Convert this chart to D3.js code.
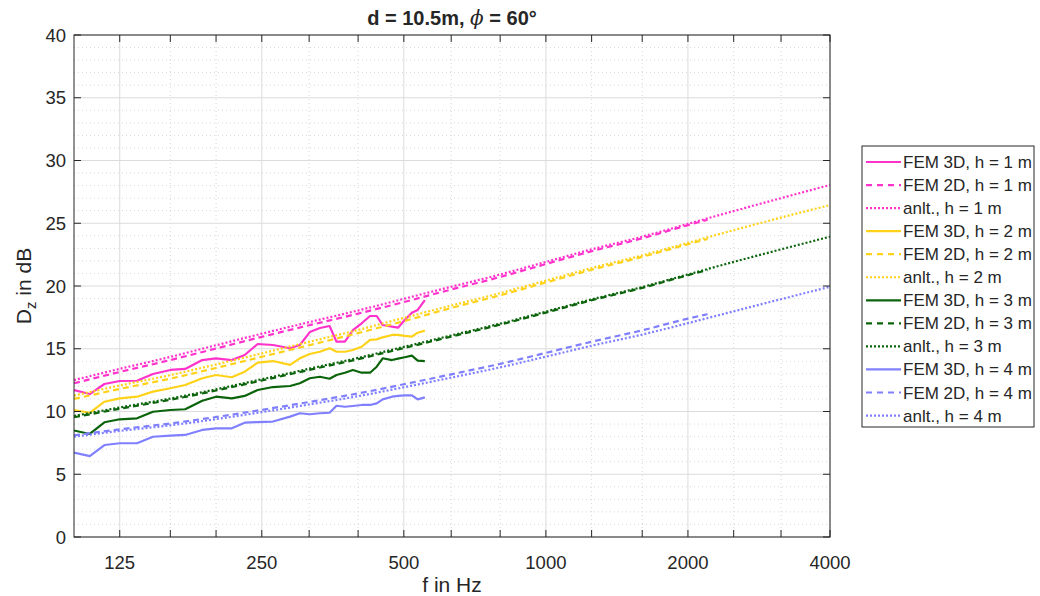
<!DOCTYPE html>
<html><head><meta charset="utf-8">
<script src="https://cdn.jsdelivr.net/npm/d3@7"></script>
<style>
body{margin:0;background:#fff}
text{font-family:"Liberation Sans",Arial,Helvetica,sans-serif;fill:#262626}
</style>
</head><body>
<svg id="chart" width="1040" height="596"></svg>
<script>
// ---------- data ----------
const freq3D = [100,108,116,125,136,147,160,172,187,200,216,230,245,264,287,301,316,332,348,360,375,390,407,424,438,451,472,486,502,520,535,554];
const fem3D_h1 = [11.71,11.39,12.19,12.43,12.45,12.99,13.31,13.39,14.10,14.24,14.10,14.50,15.38,15.30,15.04,15.30,16.33,16.65,16.81,15.56,15.56,16.49,17.03,17.61,17.61,16.89,16.76,16.68,17.29,17.87,18.09,18.88];
const fem3D_h2 = [10.12,9.90,10.78,11.05,11.18,11.58,11.85,12.11,12.65,12.91,12.73,13.17,13.89,14.02,13.71,14.24,14.58,14.76,15.04,14.76,14.76,14.90,15.16,15.70,15.75,15.91,16.10,16.10,16.02,15.96,16.28,16.44];
const fem3D_h3 = [8.49,8.21,9.14,9.38,9.46,9.98,10.12,10.18,10.86,11.18,11.05,11.24,11.71,11.95,12.03,12.25,12.65,12.77,12.61,12.91,13.09,13.31,13.09,13.09,13.57,14.24,14.10,14.21,14.32,14.45,14.05,14.02];
const fem3D_h4 = [6.72,6.45,7.33,7.47,7.47,7.99,8.07,8.13,8.53,8.66,8.66,9.11,9.16,9.20,9.59,9.86,9.78,9.86,9.90,10.46,10.38,10.44,10.52,10.52,10.65,10.97,11.18,11.24,11.29,11.29,10.97,11.13];

const freq2D = [100,125,160,200,250,315,400,500,630,800,1000,1250,1600,2000,2200];
const fem2D_h1 = [12.25,13.15,14.10,15.02,15.95,16.87,17.80,18.72,19.72,20.72,21.75,22.77,23.80,24.85,25.28];
const fem2D_h2 = [11.00,11.80,12.62,13.47,14.36,15.28,16.25,17.20,18.25,19.26,20.28,21.29,22.32,23.33,23.75];
const fem2D_h3 = [9.54,10.22,10.93,11.67,12.47,13.31,14.17,15.05,15.97,16.92,17.88,18.86,19.85,20.86,21.27];
const fem2D_h4 = [8.10,8.58,9.05,9.56,10.13,10.76,11.44,12.17,12.96,13.80,14.67,15.56,16.47,17.40,17.75];

const freqAn = [100,125,160,200,250,315,400,500,630,800,1000,1250,1600,2000,2500,3150,4000];
const anlt_h1 = [12.50,13.40,14.35,15.28,16.20,17.12,18.05,18.98,19.94,20.92,21.92,22.92,23.93,24.95,25.97,27.00,28.05];
const anlt_h2 = [11.27,12.07,12.90,13.75,14.63,15.55,16.50,17.46,18.44,19.43,20.43,21.43,22.44,23.44,24.45,25.45,26.45];
const anlt_h3 = [9.64,10.32,11.03,11.77,12.57,13.41,14.27,15.15,16.06,17.00,17.96,18.93,19.92,20.92,21.92,22.92,23.93];
const anlt_h4 = [7.99,8.45,8.90,9.39,9.95,10.56,11.22,11.93,12.70,13.52,14.37,15.24,16.13,17.04,17.98,18.95,19.94];

const xTickValues = [125,250,500,1000,2000,4000];
const xMinorTicks = [160,200,315,400,630,800,1250,1600,2500,3150];
const yTickValues = [0,5,10,15,20,25,30,35,40];
const yMinorTicks = [1,2,3,4,6,7,8,9,11,12,13,14,16,17,18,19,21,22,23,24,26,27,28,29,31,32,33,34,36,37,38,39];

const colors = {h1:"#FF33CC", h2:"#FFD21A", h3:"#0B640B", h4:"#8080FF"};

// ---------- layout ----------
const svg = d3.select("#chart");
const L = 74, R = 830, T = 35, B = 537;
const x = d3.scaleLog().domain([100,4000]).range([L,R]);
const y = d3.scaleLinear().domain([0,40]).range([B,T]);
const axisColor = "#262626";

svg.append("rect").attr("width",1040).attr("height",596).attr("fill","#fff");

// grid
const g = svg.append("g");
g.selectAll(".xmin").data(xMinorTicks).join("line")
  .attr("x1",d=>x(d)).attr("x2",d=>x(d)).attr("y1",T).attr("y2",B)
  .attr("stroke","#d8d8d8").attr("stroke-width",1).attr("stroke-dasharray","1,3");
g.selectAll(".ymin").data(yMinorTicks).join("line")
  .attr("x1",L).attr("x2",R).attr("y1",d=>y(d)).attr("y2",d=>y(d))
  .attr("stroke","#d8d8d8").attr("stroke-width",1).attr("stroke-dasharray","1,3");
g.selectAll(".xmaj").data(xTickValues).join("line")
  .attr("x1",d=>x(d)).attr("x2",d=>x(d)).attr("y1",T).attr("y2",B)
  .attr("stroke","#dcdcdc").attr("stroke-width",1);
g.selectAll(".ymaj").data(yTickValues).join("line")
  .attr("x1",L).attr("x2",R).attr("y1",d=>y(d)).attr("y2",d=>y(d))
  .attr("stroke","#dcdcdc").attr("stroke-width",1);

// clip
svg.append("clipPath").attr("id","clip").append("rect")
  .attr("x",L).attr("y",T).attr("width",R-L).attr("height",B-T);

const DASH = "6,4", DOT = "2,2";
const series = [
  {name:"FEM 3D, h = 1 m", f:freq3D, v:fem3D_h1, c:colors.h1, dash:null},
  {name:"FEM 2D, h = 1 m", f:freq2D, v:fem2D_h1, c:colors.h1, dash:DASH},
  {name:"anlt., h = 1 m",  f:freqAn, v:anlt_h1,  c:colors.h1, dash:DOT},
  {name:"FEM 3D, h = 2 m", f:freq3D, v:fem3D_h2, c:colors.h2, dash:null},
  {name:"FEM 2D, h = 2 m", f:freq2D, v:fem2D_h2, c:colors.h2, dash:DASH},
  {name:"anlt., h = 2 m",  f:freqAn, v:anlt_h2,  c:colors.h2, dash:DOT},
  {name:"FEM 3D, h = 3 m", f:freq3D, v:fem3D_h3, c:colors.h3, dash:null},
  {name:"FEM 2D, h = 3 m", f:freq2D, v:fem2D_h3, c:colors.h3, dash:DASH},
  {name:"anlt., h = 3 m",  f:freqAn, v:anlt_h3,  c:colors.h3, dash:DOT},
  {name:"FEM 3D, h = 4 m", f:freq3D, v:fem3D_h4, c:colors.h4, dash:null},
  {name:"FEM 2D, h = 4 m", f:freq2D, v:fem2D_h4, c:colors.h4, dash:DASH},
  {name:"anlt., h = 4 m",  f:freqAn, v:anlt_h4,  c:colors.h4, dash:DOT}
];

const lineGen = d3.line().x(d=>x(d[0])).y(d=>y(d[1]));
const lineSmooth = d3.line().x(d=>x(d[0])).y(d=>y(d[1])).curve(d3.curveMonotoneX);
const plot = svg.append("g").attr("clip-path","url(#clip)");
series.forEach(s=>{
  const pts = s.f.map((f,i)=>[f,s.v[i]]);
  plot.append("path").attr("d", s.dash ? lineSmooth(pts) : lineGen(pts))
    .attr("fill","none").attr("stroke",s.c).attr("stroke-width",2.2)
    .attr("stroke-linejoin","round")
    .attr("stroke-dasharray",s.dash);
});

// axes box + ticks
const ax = svg.append("g").attr("stroke",axisColor).attr("stroke-width",1).attr("fill","none");
ax.append("rect").attr("x",L).attr("y",T).attr("width",R-L).attr("height",B-T);
const tl = 7;
const allX = xTickValues.concat(xMinorTicks);
ax.selectAll(".xtb").data(allX).join("line")
  .attr("x1",d=>x(d)).attr("x2",d=>x(d)).attr("y1",B).attr("y2",B-tl);
ax.selectAll(".xtt").data(allX).join("line")
  .attr("x1",d=>x(d)).attr("x2",d=>x(d)).attr("y1",T).attr("y2",T+tl);
ax.selectAll(".ytl").data(yTickValues).join("line")
  .attr("x1",L).attr("x2",L+tl).attr("y1",d=>y(d)).attr("y2",d=>y(d));
ax.selectAll(".ytr").data(yTickValues).join("line")
  .attr("x1",R).attr("x2",R-tl).attr("y1",d=>y(d)).attr("y2",d=>y(d));

// tick labels
svg.selectAll(".xl").data(xTickValues).join("text")
  .attr("x",d=>x(d)).attr("y",B+32).attr("text-anchor","middle")
  .attr("font-size",18.5).text(d=>d);
svg.selectAll(".yl").data(yTickValues).join("text")
  .attr("x",L-8).attr("y",d=>y(d)+6.5).attr("text-anchor","end")
  .attr("font-size",18.5).text(d=>d);

// axis labels
svg.append("text").attr("x",(L+R)/2).attr("y",592).attr("text-anchor","middle")
  .attr("font-size",21).text("f in Hz");
const yl = svg.append("text").attr("transform",`translate(31,${(T+B)/2}) rotate(-90)`)
  .attr("text-anchor","middle").attr("font-size",21);
yl.append("tspan").text("D");
yl.append("tspan").attr("font-size",15).attr("dy",5).text("z");
yl.append("tspan").attr("dy",-5).text(" in dB");

// title
const tt = svg.append("text").attr("x",(L+R)/2).attr("y",25).attr("text-anchor","middle")
  .attr("font-size",20).attr("font-weight","bold");
tt.append("tspan").text("d = 10.5m, ");
tt.append("tspan").attr("font-style","italic").attr("font-weight","normal").attr("font-family","'DejaVu Serif',serif").text("ϕ");
tt.append("tspan").text(" = 60°");

// legend
const lg = svg.append("g");
const LX = 862, LY = 146, LW = 172, LH = 281, step = 23.05;
lg.append("rect").attr("x",LX).attr("y",LY).attr("width",LW).attr("height",LH)
  .attr("fill","#fff").attr("stroke",axisColor).attr("stroke-width",1);
series.forEach((s,i)=>{
  const cy = 162 + i*step;
  lg.append("line").attr("x1",866).attr("x2",901).attr("y1",cy).attr("y2",cy)
    .attr("stroke",s.c).attr("stroke-width",2.2).attr("stroke-dasharray",s.dash ? (s.dash===DASH?"6,5":"2,2") : null);
  lg.append("text").attr("x",903).attr("y",cy+6).attr("font-size",17).text(s.name);
});
</script>
</body></html>
